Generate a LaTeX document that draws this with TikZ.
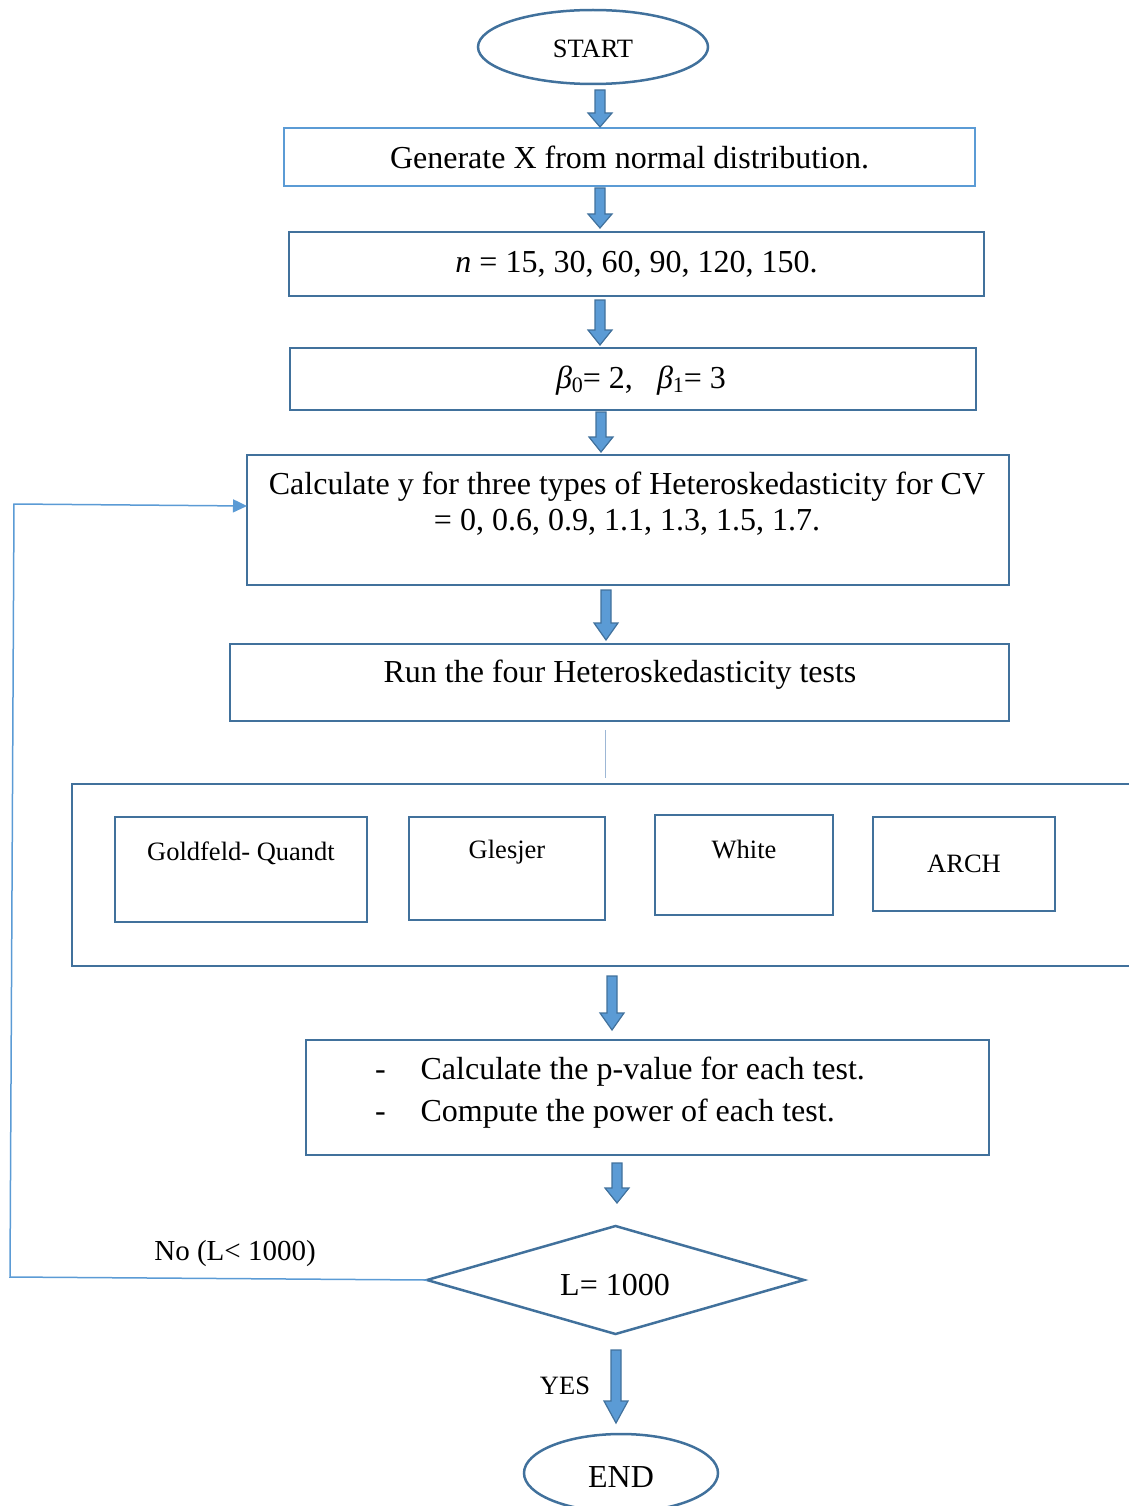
\documentclass[tikz,border=0pt]{standalone}
\usepackage{fontspec}
\setmainfont{Liberation Serif}
\usetikzlibrary{shapes.geometric,calc,arrows.meta}
\definecolor{bdark}{HTML}{41719C}
\definecolor{blight}{HTML}{5B9BD5}
\definecolor{afill}{HTML}{5B9BD5}
\definecolor{thinl}{HTML}{9DB7D5}
\newcommand\barrow[4]{\draw[barrowst] (#1-5,#2) -- (#1+5,#2) -- (#1+5,#3-#4) -- (#1+12,#3-#4) -- (#1,#3) -- (#1-12,#3-#4) -- (#1-5,#3-#4) -- cycle;}
\newcommand\betasub[1]{\textit{β}\raisebox{-0.28ex}{\fontsize{22}{22}\selectfont #1}}
\begin{document}
\begin{tikzpicture}[x=1pt,y=-1pt,
  every node/.style={inner sep=0pt, outer sep=0pt},
  bigfont/.style={font=\fontsize{32}{36}\selectfont},
  midfont/.style={font=\fontsize{26.5}{32}\selectfont},
  boxst/.style={draw=bdark, line width=2.5pt, rectangle},
  ellst/.style={draw=bdark, line width=2.5pt, ellipse},
  barrowst/.style={fill=afill, draw=bdark, line width=1.2pt, line join=miter},
  loopst/.style={draw=blight, line width=1.5pt}
]
\useasboundingbox (0,0) rectangle (1128,1506);

% start
\node[ellst, midfont, minimum width=230pt, minimum height=74pt] (start) at (593,47) {};
\node[midfont] (startt) at (593,49) {START};

% boxes
\node[boxst, draw=blight, line width=2pt, bigfont, minimum width=691pt, minimum height=58pt] (b1) at (629.5,157) {Generate X from normal distribution.};
\node[boxst, bigfont, minimum width=695pt, minimum height=64pt] (b2) at (636.5,264) {\textit{n} = 15, 30, 60, 90, 120, 150.};
\node[boxst, bigfont, minimum width=686pt, minimum height=62pt] (b3) at (633,379) {};
\node[bigfont] (b3t) at (641,381) {\betasub{0}= 2,\ \ \ \betasub{1}= 3};
\node[boxst, minimum width=762pt, minimum height=130pt] (b4) at (628,520) {};
\node[bigfont, align=center] (b4t) at (627,504) {Calculate y for three types of Heteroskedasticity for CV\\= 0, 0.6, 0.9, 1.1, 1.3, 1.5, 1.7.};
\node[boxst, minimum width=779pt, minimum height=77pt] (b5) at (619.5,682.5) {};
\node[bigfont] (b5t) at (620,675) {Run the four Heteroskedasticity tests};

% group of tests
\node[boxst, minimum width=1068pt, minimum height=182pt] (grp) at (606,875) {};
\node[boxst, minimum width=252pt, minimum height=105pt] (gq) at (241,869.5) {};
\node[midfont] (gqt) at (241,853) {Goldfeld- Quandt};
\node[boxst, minimum width=196pt, minimum height=103pt] (gl) at (507,868.5) {};
\node[midfont] (glt) at (507,852) {Glesjer};
\node[boxst, minimum width=178pt, minimum height=100pt] (wh) at (744,865) {};
\node[midfont] (wht) at (744,849) {White};
\node[boxst, minimum width=182pt, minimum height=94pt] (ar) at (964,864) {};
\node[midfont] (art) at (964,864) {ARCH};

% compute box
\node[boxst, minimum width=683pt, minimum height=115pt] (b6) at (647.5,1097.5) {};
\node[bigfont, anchor=west] (b6t) at (375,1092) {\fontsize{32}{42}\selectfont\begin{tabular}{@{}l@{\hspace{35pt}}l@{}}-&Calculate the p-value for each test.\\-&Compute the power of each test.\end{tabular}};

% decision
\node[diamond, draw=bdark, line width=2.5pt, aspect=3.49, minimum width=377pt, minimum height=108pt] (dec) at (615.5,1280) {};
\node[bigfont] (dect) at (615,1285) {L= 1000};

% end
\node[ellst, minimum width=194pt, minimum height=78pt] (end) at (621,1473) {};
\node[bigfont] (endt) at (621,1477) {END};

% labels
\node[font=\fontsize{29}{34}\selectfont] (nolab) at (235,1254) {No (L< 1000)};
\node[midfont] (yeslab) at (565,1386) {YES};

% block arrows
\barrow{600}{90}{127}{14}
\barrow{600}{188}{228}{14}
\barrow{600}{300}{345}{15}
\barrow{601}{412}{452}{15}
\barrow{606}{590}{640}{17}
\barrow{612}{976}{1030}{17}
\barrow{617}{1163}{1203}{15}
\barrow{616}{1350}{1423}{22}

% thin connector
\draw[draw=thinl, line width=1pt] ([xshift=-14.5pt,yshift=-9pt]b5.south) -- ([xshift=-1pt,yshift=6pt]grp.north);

% loop back
\coordinate (lb) at (10,1277);
\coordinate (lt) at (14,504);
\draw[loopst, -{Triangle[length=14pt,width=13pt]}] (dec.west) -- (lb) -- (lt) -- (b4.west |- 0,506);
\end{tikzpicture}
\end{document}
